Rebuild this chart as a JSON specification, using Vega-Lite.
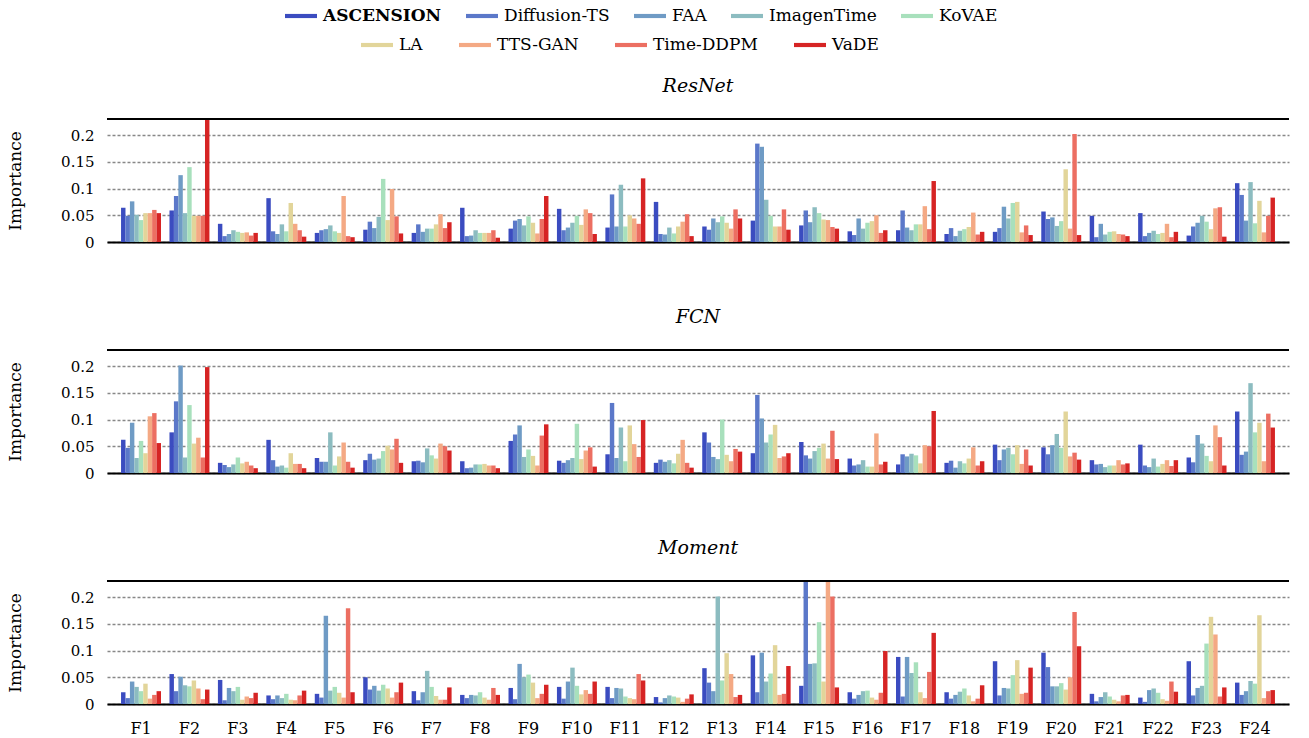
{
"$schema":"https://vega.github.io/schema/vega-lite/v6.json",
"padding":{"left":6,"top":0,"right":8,"bottom":0},
"config":{"font":"DejaVu Serif","view":{"stroke":null},"concat":{"spacing":58},
"axis":{"labelFont":"DejaVu Serif","titleFont":"DejaVu Serif","labelColor":"#000","titleColor":"#000"},
"axisY":{"titleFontSize":17,"titleFontWeight":"normal","titlePadding":36,"values":[0,0.05,0.1,0.15,0.2],"format":".2~f","labelFontSize":15,"labelPadding":13,"labelOverlap":false,"labelBound":false,"ticks":false,"domain":false,"gridColor":"#888888","gridDash":[3,2],"gridWidth":1.5},
"title":{"font":"DejaVu Serif","fontStyle":"italic","fontWeight":"normal","fontSize":19,"offset":22,"color":"#000"},
"legend":{"labelFont":"DejaVu Serif"}},
"datasets":{
"resnet":[
{"f":"F1","m":"ASCENSION","v":0.064},{"f":"F1","m":"Diffusion-TS","v":0.049},{"f":"F1","m":"FAA","v":0.076},{"f":"F1","m":"ImagenTime","v":0.051},{"f":"F1","m":"KoVAE","v":0.041},{"f":"F1","m":"LA","v":0.054},{"f":"F1","m":"TTS-GAN","v":0.054},{"f":"F1","m":"Time-DDPM","v":0.060},{"f":"F1","m":"VaDE","v":0.054},
{"f":"F2","m":"ASCENSION","v":0.059},{"f":"F2","m":"Diffusion-TS","v":0.086},{"f":"F2","m":"FAA","v":0.125},{"f":"F2","m":"ImagenTime","v":0.054},{"f":"F2","m":"KoVAE","v":0.140},{"f":"F2","m":"LA","v":0.049},{"f":"F2","m":"TTS-GAN","v":0.049},{"f":"F2","m":"Time-DDPM","v":0.049},{"f":"F2","m":"VaDE","v":0.25},
{"f":"F3","m":"ASCENSION","v":0.034},{"f":"F3","m":"Diffusion-TS","v":0.011},{"f":"F3","m":"FAA","v":0.015},{"f":"F3","m":"ImagenTime","v":0.022},{"f":"F3","m":"KoVAE","v":0.019},{"f":"F3","m":"LA","v":0.017},{"f":"F3","m":"TTS-GAN","v":0.018},{"f":"F3","m":"Time-DDPM","v":0.012},{"f":"F3","m":"VaDE","v":0.017},
{"f":"F4","m":"ASCENSION","v":0.082},{"f":"F4","m":"Diffusion-TS","v":0.020},{"f":"F4","m":"FAA","v":0.015},{"f":"F4","m":"ImagenTime","v":0.033},{"f":"F4","m":"KoVAE","v":0.020},{"f":"F4","m":"LA","v":0.073},{"f":"F4","m":"TTS-GAN","v":0.034},{"f":"F4","m":"Time-DDPM","v":0.022},{"f":"F4","m":"VaDE","v":0.010},
{"f":"F5","m":"ASCENSION","v":0.017},{"f":"F5","m":"Diffusion-TS","v":0.022},{"f":"F5","m":"FAA","v":0.024},{"f":"F5","m":"ImagenTime","v":0.031},{"f":"F5","m":"KoVAE","v":0.020},{"f":"F5","m":"LA","v":0.017},{"f":"F5","m":"TTS-GAN","v":0.086},{"f":"F5","m":"Time-DDPM","v":0.011},{"f":"F5","m":"VaDE","v":0.009},
{"f":"F6","m":"ASCENSION","v":0.023},{"f":"F6","m":"Diffusion-TS","v":0.038},{"f":"F6","m":"FAA","v":0.026},{"f":"F6","m":"ImagenTime","v":0.047},{"f":"F6","m":"KoVAE","v":0.118},{"f":"F6","m":"LA","v":0.041},{"f":"F6","m":"TTS-GAN","v":0.099},{"f":"F6","m":"Time-DDPM","v":0.048},{"f":"F6","m":"VaDE","v":0.016},
{"f":"F7","m":"ASCENSION","v":0.017},{"f":"F7","m":"Diffusion-TS","v":0.033},{"f":"F7","m":"FAA","v":0.019},{"f":"F7","m":"ImagenTime","v":0.025},{"f":"F7","m":"KoVAE","v":0.025},{"f":"F7","m":"LA","v":0.033},{"f":"F7","m":"TTS-GAN","v":0.052},{"f":"F7","m":"Time-DDPM","v":0.026},{"f":"F7","m":"VaDE","v":0.037},
{"f":"F8","m":"ASCENSION","v":0.064},{"f":"F8","m":"Diffusion-TS","v":0.011},{"f":"F8","m":"FAA","v":0.012},{"f":"F8","m":"ImagenTime","v":0.022},{"f":"F8","m":"KoVAE","v":0.017},{"f":"F8","m":"LA","v":0.017},{"f":"F8","m":"TTS-GAN","v":0.017},{"f":"F8","m":"Time-DDPM","v":0.022},{"f":"F8","m":"VaDE","v":0.008},
{"f":"F9","m":"ASCENSION","v":0.025},{"f":"F9","m":"Diffusion-TS","v":0.040},{"f":"F9","m":"FAA","v":0.043},{"f":"F9","m":"ImagenTime","v":0.031},{"f":"F9","m":"KoVAE","v":0.048},{"f":"F9","m":"LA","v":0.036},{"f":"F9","m":"TTS-GAN","v":0.016},{"f":"F9","m":"Time-DDPM","v":0.043},{"f":"F9","m":"VaDE","v":0.086},
{"f":"F10","m":"ASCENSION","v":0.062},{"f":"F10","m":"Diffusion-TS","v":0.022},{"f":"F10","m":"FAA","v":0.027},{"f":"F10","m":"ImagenTime","v":0.036},{"f":"F10","m":"KoVAE","v":0.049},{"f":"F10","m":"LA","v":0.032},{"f":"F10","m":"TTS-GAN","v":0.061},{"f":"F10","m":"Time-DDPM","v":0.054},{"f":"F10","m":"VaDE","v":0.015},
{"f":"F11","m":"ASCENSION","v":0.027},{"f":"F11","m":"Diffusion-TS","v":0.089},{"f":"F11","m":"FAA","v":0.029},{"f":"F11","m":"ImagenTime","v":0.107},{"f":"F11","m":"KoVAE","v":0.029},{"f":"F11","m":"LA","v":0.050},{"f":"F11","m":"TTS-GAN","v":0.044},{"f":"F11","m":"Time-DDPM","v":0.034},{"f":"F11","m":"VaDE","v":0.119},
{"f":"F12","m":"ASCENSION","v":0.075},{"f":"F12","m":"Diffusion-TS","v":0.015},{"f":"F12","m":"FAA","v":0.014},{"f":"F12","m":"ImagenTime","v":0.027},{"f":"F12","m":"KoVAE","v":0.016},{"f":"F12","m":"LA","v":0.029},{"f":"F12","m":"TTS-GAN","v":0.038},{"f":"F12","m":"Time-DDPM","v":0.052},{"f":"F12","m":"VaDE","v":0.011},
{"f":"F13","m":"ASCENSION","v":0.029},{"f":"F13","m":"Diffusion-TS","v":0.023},{"f":"F13","m":"FAA","v":0.044},{"f":"F13","m":"ImagenTime","v":0.037},{"f":"F13","m":"KoVAE","v":0.048},{"f":"F13","m":"LA","v":0.036},{"f":"F13","m":"TTS-GAN","v":0.025},{"f":"F13","m":"Time-DDPM","v":0.061},{"f":"F13","m":"VaDE","v":0.044},
{"f":"F14","m":"ASCENSION","v":0.040},{"f":"F14","m":"Diffusion-TS","v":0.184},{"f":"F14","m":"FAA","v":0.178},{"f":"F14","m":"ImagenTime","v":0.079},{"f":"F14","m":"KoVAE","v":0.049},{"f":"F14","m":"LA","v":0.029},{"f":"F14","m":"TTS-GAN","v":0.029},{"f":"F14","m":"Time-DDPM","v":0.061},{"f":"F14","m":"VaDE","v":0.023},
{"f":"F15","m":"ASCENSION","v":0.031},{"f":"F15","m":"Diffusion-TS","v":0.059},{"f":"F15","m":"FAA","v":0.037},{"f":"F15","m":"ImagenTime","v":0.065},{"f":"F15","m":"KoVAE","v":0.054},{"f":"F15","m":"LA","v":0.042},{"f":"F15","m":"TTS-GAN","v":0.041},{"f":"F15","m":"Time-DDPM","v":0.028},{"f":"F15","m":"VaDE","v":0.025},
{"f":"F16","m":"ASCENSION","v":0.020},{"f":"F16","m":"Diffusion-TS","v":0.013},{"f":"F16","m":"FAA","v":0.044},{"f":"F16","m":"ImagenTime","v":0.025},{"f":"F16","m":"KoVAE","v":0.036},{"f":"F16","m":"LA","v":0.039},{"f":"F16","m":"TTS-GAN","v":0.050},{"f":"F16","m":"Time-DDPM","v":0.017},{"f":"F16","m":"VaDE","v":0.022},
{"f":"F17","m":"ASCENSION","v":0.022},{"f":"F17","m":"Diffusion-TS","v":0.059},{"f":"F17","m":"FAA","v":0.027},{"f":"F17","m":"ImagenTime","v":0.022},{"f":"F17","m":"KoVAE","v":0.033},{"f":"F17","m":"LA","v":0.033},{"f":"F17","m":"TTS-GAN","v":0.067},{"f":"F17","m":"Time-DDPM","v":0.024},{"f":"F17","m":"VaDE","v":0.114},
{"f":"F18","m":"ASCENSION","v":0.015},{"f":"F18","m":"Diffusion-TS","v":0.026},{"f":"F18","m":"FAA","v":0.011},{"f":"F18","m":"ImagenTime","v":0.021},{"f":"F18","m":"KoVAE","v":0.024},{"f":"F18","m":"LA","v":0.028},{"f":"F18","m":"TTS-GAN","v":0.055},{"f":"F18","m":"Time-DDPM","v":0.014},{"f":"F18","m":"VaDE","v":0.019},
{"f":"F19","m":"ASCENSION","v":0.019},{"f":"F19","m":"Diffusion-TS","v":0.026},{"f":"F19","m":"FAA","v":0.066},{"f":"F19","m":"ImagenTime","v":0.044},{"f":"F19","m":"KoVAE","v":0.073},{"f":"F19","m":"LA","v":0.075},{"f":"F19","m":"TTS-GAN","v":0.018},{"f":"F19","m":"Time-DDPM","v":0.031},{"f":"F19","m":"VaDE","v":0.013},
{"f":"F20","m":"ASCENSION","v":0.057},{"f":"F20","m":"Diffusion-TS","v":0.043},{"f":"F20","m":"FAA","v":0.046},{"f":"F20","m":"ImagenTime","v":0.030},{"f":"F20","m":"KoVAE","v":0.039},{"f":"F20","m":"LA","v":0.136},{"f":"F20","m":"TTS-GAN","v":0.025},{"f":"F20","m":"Time-DDPM","v":0.202},{"f":"F20","m":"VaDE","v":0.013},
{"f":"F21","m":"ASCENSION","v":0.049},{"f":"F21","m":"Diffusion-TS","v":0.009},{"f":"F21","m":"FAA","v":0.034},{"f":"F21","m":"ImagenTime","v":0.014},{"f":"F21","m":"KoVAE","v":0.019},{"f":"F21","m":"LA","v":0.020},{"f":"F21","m":"TTS-GAN","v":0.015},{"f":"F21","m":"Time-DDPM","v":0.014},{"f":"F21","m":"VaDE","v":0.011},
{"f":"F22","m":"ASCENSION","v":0.054},{"f":"F22","m":"Diffusion-TS","v":0.011},{"f":"F22","m":"FAA","v":0.017},{"f":"F22","m":"ImagenTime","v":0.021},{"f":"F22","m":"KoVAE","v":0.015},{"f":"F22","m":"LA","v":0.017},{"f":"F22","m":"TTS-GAN","v":0.034},{"f":"F22","m":"Time-DDPM","v":0.009},{"f":"F22","m":"VaDE","v":0.019},
{"f":"F23","m":"ASCENSION","v":0.012},{"f":"F23","m":"Diffusion-TS","v":0.029},{"f":"F23","m":"FAA","v":0.036},{"f":"F23","m":"ImagenTime","v":0.049},{"f":"F23","m":"KoVAE","v":0.038},{"f":"F23","m":"LA","v":0.024},{"f":"F23","m":"TTS-GAN","v":0.063},{"f":"F23","m":"Time-DDPM","v":0.065},{"f":"F23","m":"VaDE","v":0.010},
{"f":"F24","m":"ASCENSION","v":0.110},{"f":"F24","m":"Diffusion-TS","v":0.088},{"f":"F24","m":"FAA","v":0.040},{"f":"F24","m":"ImagenTime","v":0.112},{"f":"F24","m":"KoVAE","v":0.035},{"f":"F24","m":"LA","v":0.077},{"f":"F24","m":"TTS-GAN","v":0.018},{"f":"F24","m":"Time-DDPM","v":0.049},{"f":"F24","m":"VaDE","v":0.083}
],
"fcn":[
{"f":"F1","m":"ASCENSION","v":0.062},{"f":"F1","m":"Diffusion-TS","v":0.047},{"f":"F1","m":"FAA","v":0.094},{"f":"F1","m":"ImagenTime","v":0.028},{"f":"F1","m":"KoVAE","v":0.060},{"f":"F1","m":"LA","v":0.037},{"f":"F1","m":"TTS-GAN","v":0.106},{"f":"F1","m":"Time-DDPM","v":0.112},{"f":"F1","m":"VaDE","v":0.056},
{"f":"F2","m":"ASCENSION","v":0.076},{"f":"F2","m":"Diffusion-TS","v":0.134},{"f":"F2","m":"FAA","v":0.201},{"f":"F2","m":"ImagenTime","v":0.029},{"f":"F2","m":"KoVAE","v":0.127},{"f":"F2","m":"LA","v":0.055},{"f":"F2","m":"TTS-GAN","v":0.066},{"f":"F2","m":"Time-DDPM","v":0.029},{"f":"F2","m":"VaDE","v":0.198},
{"f":"F3","m":"ASCENSION","v":0.019},{"f":"F3","m":"Diffusion-TS","v":0.015},{"f":"F3","m":"FAA","v":0.011},{"f":"F3","m":"ImagenTime","v":0.016},{"f":"F3","m":"KoVAE","v":0.029},{"f":"F3","m":"LA","v":0.018},{"f":"F3","m":"TTS-GAN","v":0.021},{"f":"F3","m":"Time-DDPM","v":0.014},{"f":"F3","m":"VaDE","v":0.009},
{"f":"F4","m":"ASCENSION","v":0.062},{"f":"F4","m":"Diffusion-TS","v":0.024},{"f":"F4","m":"FAA","v":0.012},{"f":"F4","m":"ImagenTime","v":0.014},{"f":"F4","m":"KoVAE","v":0.010},{"f":"F4","m":"LA","v":0.037},{"f":"F4","m":"TTS-GAN","v":0.017},{"f":"F4","m":"Time-DDPM","v":0.017},{"f":"F4","m":"VaDE","v":0.009},
{"f":"F5","m":"ASCENSION","v":0.028},{"f":"F5","m":"Diffusion-TS","v":0.021},{"f":"F5","m":"FAA","v":0.021},{"f":"F5","m":"ImagenTime","v":0.076},{"f":"F5","m":"KoVAE","v":0.014},{"f":"F5","m":"LA","v":0.031},{"f":"F5","m":"TTS-GAN","v":0.057},{"f":"F5","m":"Time-DDPM","v":0.021},{"f":"F5","m":"VaDE","v":0.010},
{"f":"F6","m":"ASCENSION","v":0.024},{"f":"F6","m":"Diffusion-TS","v":0.036},{"f":"F6","m":"FAA","v":0.025},{"f":"F6","m":"ImagenTime","v":0.027},{"f":"F6","m":"KoVAE","v":0.041},{"f":"F6","m":"LA","v":0.051},{"f":"F6","m":"TTS-GAN","v":0.044},{"f":"F6","m":"Time-DDPM","v":0.064},{"f":"F6","m":"VaDE","v":0.019},
{"f":"F7","m":"ASCENSION","v":0.022},{"f":"F7","m":"Diffusion-TS","v":0.023},{"f":"F7","m":"FAA","v":0.020},{"f":"F7","m":"ImagenTime","v":0.046},{"f":"F7","m":"KoVAE","v":0.033},{"f":"F7","m":"LA","v":0.027},{"f":"F7","m":"TTS-GAN","v":0.055},{"f":"F7","m":"Time-DDPM","v":0.050},{"f":"F7","m":"VaDE","v":0.042},
{"f":"F8","m":"ASCENSION","v":0.022},{"f":"F8","m":"Diffusion-TS","v":0.009},{"f":"F8","m":"FAA","v":0.010},{"f":"F8","m":"ImagenTime","v":0.016},{"f":"F8","m":"KoVAE","v":0.016},{"f":"F8","m":"LA","v":0.017},{"f":"F8","m":"TTS-GAN","v":0.014},{"f":"F8","m":"Time-DDPM","v":0.014},{"f":"F8","m":"VaDE","v":0.009},
{"f":"F9","m":"ASCENSION","v":0.060},{"f":"F9","m":"Diffusion-TS","v":0.072},{"f":"F9","m":"FAA","v":0.089},{"f":"F9","m":"ImagenTime","v":0.030},{"f":"F9","m":"KoVAE","v":0.044},{"f":"F9","m":"LA","v":0.032},{"f":"F9","m":"TTS-GAN","v":0.014},{"f":"F9","m":"Time-DDPM","v":0.070},{"f":"F9","m":"VaDE","v":0.091},
{"f":"F10","m":"ASCENSION","v":0.023},{"f":"F10","m":"Diffusion-TS","v":0.019},{"f":"F10","m":"FAA","v":0.024},{"f":"F10","m":"ImagenTime","v":0.028},{"f":"F10","m":"KoVAE","v":0.092},{"f":"F10","m":"LA","v":0.026},{"f":"F10","m":"TTS-GAN","v":0.042},{"f":"F10","m":"Time-DDPM","v":0.048},{"f":"F10","m":"VaDE","v":0.012},
{"f":"F11","m":"ASCENSION","v":0.035},{"f":"F11","m":"Diffusion-TS","v":0.131},{"f":"F11","m":"FAA","v":0.028},{"f":"F11","m":"ImagenTime","v":0.085},{"f":"F11","m":"KoVAE","v":0.022},{"f":"F11","m":"LA","v":0.089},{"f":"F11","m":"TTS-GAN","v":0.054},{"f":"F11","m":"Time-DDPM","v":0.030},{"f":"F11","m":"VaDE","v":0.099},
{"f":"F12","m":"ASCENSION","v":0.019},{"f":"F12","m":"Diffusion-TS","v":0.025},{"f":"F12","m":"FAA","v":0.021},{"f":"F12","m":"ImagenTime","v":0.024},{"f":"F12","m":"KoVAE","v":0.018},{"f":"F12","m":"LA","v":0.036},{"f":"F12","m":"TTS-GAN","v":0.062},{"f":"F12","m":"Time-DDPM","v":0.019},{"f":"F12","m":"VaDE","v":0.010},
{"f":"F13","m":"ASCENSION","v":0.076},{"f":"F13","m":"Diffusion-TS","v":0.057},{"f":"F13","m":"FAA","v":0.030},{"f":"F13","m":"ImagenTime","v":0.026},{"f":"F13","m":"KoVAE","v":0.100},{"f":"F13","m":"LA","v":0.034},{"f":"F13","m":"TTS-GAN","v":0.022},{"f":"F13","m":"Time-DDPM","v":0.045},{"f":"F13","m":"VaDE","v":0.040},
{"f":"F14","m":"ASCENSION","v":0.037},{"f":"F14","m":"Diffusion-TS","v":0.146},{"f":"F14","m":"FAA","v":0.102},{"f":"F14","m":"ImagenTime","v":0.057},{"f":"F14","m":"KoVAE","v":0.072},{"f":"F14","m":"LA","v":0.090},{"f":"F14","m":"TTS-GAN","v":0.028},{"f":"F14","m":"Time-DDPM","v":0.031},{"f":"F14","m":"VaDE","v":0.037},
{"f":"F15","m":"ASCENSION","v":0.058},{"f":"F15","m":"Diffusion-TS","v":0.033},{"f":"F15","m":"FAA","v":0.027},{"f":"F15","m":"ImagenTime","v":0.041},{"f":"F15","m":"KoVAE","v":0.047},{"f":"F15","m":"LA","v":0.055},{"f":"F15","m":"TTS-GAN","v":0.027},{"f":"F15","m":"Time-DDPM","v":0.079},{"f":"F15","m":"VaDE","v":0.026},
{"f":"F16","m":"ASCENSION","v":0.027},{"f":"F16","m":"Diffusion-TS","v":0.014},{"f":"F16","m":"FAA","v":0.016},{"f":"F16","m":"ImagenTime","v":0.024},{"f":"F16","m":"KoVAE","v":0.012},{"f":"F16","m":"LA","v":0.012},{"f":"F16","m":"TTS-GAN","v":0.074},{"f":"F16","m":"Time-DDPM","v":0.016},{"f":"F16","m":"VaDE","v":0.021},
{"f":"F17","m":"ASCENSION","v":0.016},{"f":"F17","m":"Diffusion-TS","v":0.035},{"f":"F17","m":"FAA","v":0.031},{"f":"F17","m":"ImagenTime","v":0.036},{"f":"F17","m":"KoVAE","v":0.033},{"f":"F17","m":"LA","v":0.018},{"f":"F17","m":"TTS-GAN","v":0.052},{"f":"F17","m":"Time-DDPM","v":0.050},{"f":"F17","m":"VaDE","v":0.116},
{"f":"F18","m":"ASCENSION","v":0.019},{"f":"F18","m":"Diffusion-TS","v":0.023},{"f":"F18","m":"FAA","v":0.010},{"f":"F18","m":"ImagenTime","v":0.022},{"f":"F18","m":"KoVAE","v":0.018},{"f":"F18","m":"LA","v":0.027},{"f":"F18","m":"TTS-GAN","v":0.048},{"f":"F18","m":"Time-DDPM","v":0.014},{"f":"F18","m":"VaDE","v":0.022},
{"f":"F19","m":"ASCENSION","v":0.053},{"f":"F19","m":"Diffusion-TS","v":0.024},{"f":"F19","m":"FAA","v":0.044},{"f":"F19","m":"ImagenTime","v":0.047},{"f":"F19","m":"KoVAE","v":0.035},{"f":"F19","m":"LA","v":0.052},{"f":"F19","m":"TTS-GAN","v":0.017},{"f":"F19","m":"Time-DDPM","v":0.044},{"f":"F19","m":"VaDE","v":0.014},
{"f":"F20","m":"ASCENSION","v":0.048},{"f":"F20","m":"Diffusion-TS","v":0.035},{"f":"F20","m":"FAA","v":0.052},{"f":"F20","m":"ImagenTime","v":0.073},{"f":"F20","m":"KoVAE","v":0.047},{"f":"F20","m":"LA","v":0.115},{"f":"F20","m":"TTS-GAN","v":0.031},{"f":"F20","m":"Time-DDPM","v":0.038},{"f":"F20","m":"VaDE","v":0.025},
{"f":"F21","m":"ASCENSION","v":0.024},{"f":"F21","m":"Diffusion-TS","v":0.016},{"f":"F21","m":"FAA","v":0.017},{"f":"F21","m":"ImagenTime","v":0.011},{"f":"F21","m":"KoVAE","v":0.014},{"f":"F21","m":"LA","v":0.014},{"f":"F21","m":"TTS-GAN","v":0.024},{"f":"F21","m":"Time-DDPM","v":0.016},{"f":"F21","m":"VaDE","v":0.018},
{"f":"F22","m":"ASCENSION","v":0.053},{"f":"F22","m":"Diffusion-TS","v":0.014},{"f":"F22","m":"FAA","v":0.011},{"f":"F22","m":"ImagenTime","v":0.027},{"f":"F22","m":"KoVAE","v":0.012},{"f":"F22","m":"LA","v":0.017},{"f":"F22","m":"TTS-GAN","v":0.024},{"f":"F22","m":"Time-DDPM","v":0.013},{"f":"F22","m":"VaDE","v":0.024},
{"f":"F23","m":"ASCENSION","v":0.029},{"f":"F23","m":"Diffusion-TS","v":0.020},{"f":"F23","m":"FAA","v":0.071},{"f":"F23","m":"ImagenTime","v":0.055},{"f":"F23","m":"KoVAE","v":0.032},{"f":"F23","m":"LA","v":0.022},{"f":"F23","m":"TTS-GAN","v":0.089},{"f":"F23","m":"Time-DDPM","v":0.067},{"f":"F23","m":"VaDE","v":0.014},
{"f":"F24","m":"ASCENSION","v":0.115},{"f":"F24","m":"Diffusion-TS","v":0.034},{"f":"F24","m":"FAA","v":0.040},{"f":"F24","m":"ImagenTime","v":0.168},{"f":"F24","m":"KoVAE","v":0.076},{"f":"F24","m":"LA","v":0.094},{"f":"F24","m":"TTS-GAN","v":0.022},{"f":"F24","m":"Time-DDPM","v":0.111},{"f":"F24","m":"VaDE","v":0.085}
],
"moment":[
{"f":"F1","m":"ASCENSION","v":0.022},{"f":"F1","m":"Diffusion-TS","v":0.011},{"f":"F1","m":"FAA","v":0.042},{"f":"F1","m":"ImagenTime","v":0.032},{"f":"F1","m":"KoVAE","v":0.024},{"f":"F1","m":"LA","v":0.038},{"f":"F1","m":"TTS-GAN","v":0.010},{"f":"F1","m":"Time-DDPM","v":0.017},{"f":"F1","m":"VaDE","v":0.024},
{"f":"F2","m":"ASCENSION","v":0.056},{"f":"F2","m":"Diffusion-TS","v":0.024},{"f":"F2","m":"FAA","v":0.051},{"f":"F2","m":"ImagenTime","v":0.035},{"f":"F2","m":"KoVAE","v":0.033},{"f":"F2","m":"LA","v":0.044},{"f":"F2","m":"TTS-GAN","v":0.029},{"f":"F2","m":"Time-DDPM","v":0.009},{"f":"F2","m":"VaDE","v":0.027},
{"f":"F3","m":"ASCENSION","v":0.045},{"f":"F3","m":"Diffusion-TS","v":0.007},{"f":"F3","m":"FAA","v":0.030},{"f":"F3","m":"ImagenTime","v":0.024},{"f":"F3","m":"KoVAE","v":0.032},{"f":"F3","m":"LA","v":0.008},{"f":"F3","m":"TTS-GAN","v":0.014},{"f":"F3","m":"Time-DDPM","v":0.011},{"f":"F3","m":"VaDE","v":0.021},
{"f":"F4","m":"ASCENSION","v":0.016},{"f":"F4","m":"Diffusion-TS","v":0.009},{"f":"F4","m":"FAA","v":0.016},{"f":"F4","m":"ImagenTime","v":0.011},{"f":"F4","m":"KoVAE","v":0.019},{"f":"F4","m":"LA","v":0.008},{"f":"F4","m":"TTS-GAN","v":0.007},{"f":"F4","m":"Time-DDPM","v":0.016},{"f":"F4","m":"VaDE","v":0.025},
{"f":"F5","m":"ASCENSION","v":0.019},{"f":"F5","m":"Diffusion-TS","v":0.012},{"f":"F5","m":"FAA","v":0.165},{"f":"F5","m":"ImagenTime","v":0.025},{"f":"F5","m":"KoVAE","v":0.032},{"f":"F5","m":"LA","v":0.021},{"f":"F5","m":"TTS-GAN","v":0.012},{"f":"F5","m":"Time-DDPM","v":0.179},{"f":"F5","m":"VaDE","v":0.022},
{"f":"F6","m":"ASCENSION","v":0.050},{"f":"F6","m":"Diffusion-TS","v":0.027},{"f":"F6","m":"FAA","v":0.034},{"f":"F6","m":"ImagenTime","v":0.025},{"f":"F6","m":"KoVAE","v":0.036},{"f":"F6","m":"LA","v":0.029},{"f":"F6","m":"TTS-GAN","v":0.012},{"f":"F6","m":"Time-DDPM","v":0.022},{"f":"F6","m":"VaDE","v":0.040},
{"f":"F7","m":"ASCENSION","v":0.024},{"f":"F7","m":"Diffusion-TS","v":0.007},{"f":"F7","m":"FAA","v":0.022},{"f":"F7","m":"ImagenTime","v":0.062},{"f":"F7","m":"KoVAE","v":0.032},{"f":"F7","m":"LA","v":0.015},{"f":"F7","m":"TTS-GAN","v":0.008},{"f":"F7","m":"Time-DDPM","v":0.008},{"f":"F7","m":"VaDE","v":0.031},
{"f":"F8","m":"ASCENSION","v":0.017},{"f":"F8","m":"Diffusion-TS","v":0.011},{"f":"F8","m":"FAA","v":0.017},{"f":"F8","m":"ImagenTime","v":0.016},{"f":"F8","m":"KoVAE","v":0.022},{"f":"F8","m":"LA","v":0.012},{"f":"F8","m":"TTS-GAN","v":0.008},{"f":"F8","m":"Time-DDPM","v":0.030},{"f":"F8","m":"VaDE","v":0.017},
{"f":"F9","m":"ASCENSION","v":0.030},{"f":"F9","m":"Diffusion-TS","v":0.009},{"f":"F9","m":"FAA","v":0.075},{"f":"F9","m":"ImagenTime","v":0.050},{"f":"F9","m":"KoVAE","v":0.055},{"f":"F9","m":"LA","v":0.040},{"f":"F9","m":"TTS-GAN","v":0.011},{"f":"F9","m":"Time-DDPM","v":0.019},{"f":"F9","m":"VaDE","v":0.036},
{"f":"F10","m":"ASCENSION","v":0.032},{"f":"F10","m":"Diffusion-TS","v":0.010},{"f":"F10","m":"FAA","v":0.042},{"f":"F10","m":"ImagenTime","v":0.068},{"f":"F10","m":"KoVAE","v":0.034},{"f":"F10","m":"LA","v":0.018},{"f":"F10","m":"TTS-GAN","v":0.026},{"f":"F10","m":"Time-DDPM","v":0.019},{"f":"F10","m":"VaDE","v":0.042},
{"f":"F11","m":"ASCENSION","v":0.032},{"f":"F11","m":"Diffusion-TS","v":0.011},{"f":"F11","m":"FAA","v":0.030},{"f":"F11","m":"ImagenTime","v":0.029},{"f":"F11","m":"KoVAE","v":0.014},{"f":"F11","m":"LA","v":0.011},{"f":"F11","m":"TTS-GAN","v":0.009},{"f":"F11","m":"Time-DDPM","v":0.056},{"f":"F11","m":"VaDE","v":0.044},
{"f":"F12","m":"ASCENSION","v":0.013},{"f":"F12","m":"Diffusion-TS","v":0.003},{"f":"F12","m":"FAA","v":0.011},{"f":"F12","m":"ImagenTime","v":0.016},{"f":"F12","m":"KoVAE","v":0.014},{"f":"F12","m":"LA","v":0.012},{"f":"F12","m":"TTS-GAN","v":0.004},{"f":"F12","m":"Time-DDPM","v":0.010},{"f":"F12","m":"VaDE","v":0.018},
{"f":"F13","m":"ASCENSION","v":0.067},{"f":"F13","m":"Diffusion-TS","v":0.040},{"f":"F13","m":"FAA","v":0.024},{"f":"F13","m":"ImagenTime","v":0.201},{"f":"F13","m":"KoVAE","v":0.044},{"f":"F13","m":"LA","v":0.095},{"f":"F13","m":"TTS-GAN","v":0.056},{"f":"F13","m":"Time-DDPM","v":0.013},{"f":"F13","m":"VaDE","v":0.017},
{"f":"F14","m":"ASCENSION","v":0.091},{"f":"F14","m":"Diffusion-TS","v":0.022},{"f":"F14","m":"FAA","v":0.096},{"f":"F14","m":"ImagenTime","v":0.042},{"f":"F14","m":"KoVAE","v":0.057},{"f":"F14","m":"LA","v":0.110},{"f":"F14","m":"TTS-GAN","v":0.017},{"f":"F14","m":"Time-DDPM","v":0.019},{"f":"F14","m":"VaDE","v":0.071},
{"f":"F15","m":"ASCENSION","v":0.034},{"f":"F15","m":"Diffusion-TS","v":0.25},{"f":"F15","m":"FAA","v":0.075},{"f":"F15","m":"ImagenTime","v":0.076},{"f":"F15","m":"KoVAE","v":0.153},{"f":"F15","m":"LA","v":0.042},{"f":"F15","m":"TTS-GAN","v":0.25},{"f":"F15","m":"Time-DDPM","v":0.201},{"f":"F15","m":"VaDE","v":0.031},
{"f":"F16","m":"ASCENSION","v":0.022},{"f":"F16","m":"Diffusion-TS","v":0.010},{"f":"F16","m":"FAA","v":0.017},{"f":"F16","m":"ImagenTime","v":0.024},{"f":"F16","m":"KoVAE","v":0.025},{"f":"F16","m":"LA","v":0.012},{"f":"F16","m":"TTS-GAN","v":0.008},{"f":"F16","m":"Time-DDPM","v":0.021},{"f":"F16","m":"VaDE","v":0.099},
{"f":"F17","m":"ASCENSION","v":0.088},{"f":"F17","m":"Diffusion-TS","v":0.014},{"f":"F17","m":"FAA","v":0.088},{"f":"F17","m":"ImagenTime","v":0.058},{"f":"F17","m":"KoVAE","v":0.078},{"f":"F17","m":"LA","v":0.022},{"f":"F17","m":"TTS-GAN","v":0.011},{"f":"F17","m":"Time-DDPM","v":0.060},{"f":"F17","m":"VaDE","v":0.133},
{"f":"F18","m":"ASCENSION","v":0.022},{"f":"F18","m":"Diffusion-TS","v":0.010},{"f":"F18","m":"FAA","v":0.017},{"f":"F18","m":"ImagenTime","v":0.023},{"f":"F18","m":"KoVAE","v":0.029},{"f":"F18","m":"LA","v":0.016},{"f":"F18","m":"TTS-GAN","v":0.005},{"f":"F18","m":"Time-DDPM","v":0.010},{"f":"F18","m":"VaDE","v":0.035},
{"f":"F19","m":"ASCENSION","v":0.080},{"f":"F19","m":"Diffusion-TS","v":0.016},{"f":"F19","m":"FAA","v":0.030},{"f":"F19","m":"ImagenTime","v":0.029},{"f":"F19","m":"KoVAE","v":0.054},{"f":"F19","m":"LA","v":0.082},{"f":"F19","m":"TTS-GAN","v":0.019},{"f":"F19","m":"Time-DDPM","v":0.021},{"f":"F19","m":"VaDE","v":0.068},
{"f":"F20","m":"ASCENSION","v":0.096},{"f":"F20","m":"Diffusion-TS","v":0.069},{"f":"F20","m":"FAA","v":0.033},{"f":"F20","m":"ImagenTime","v":0.033},{"f":"F20","m":"KoVAE","v":0.039},{"f":"F20","m":"LA","v":0.027},{"f":"F20","m":"TTS-GAN","v":0.050},{"f":"F20","m":"Time-DDPM","v":0.172},{"f":"F20","m":"VaDE","v":0.108},
{"f":"F21","m":"ASCENSION","v":0.019},{"f":"F21","m":"Diffusion-TS","v":0.005},{"f":"F21","m":"FAA","v":0.013},{"f":"F21","m":"ImagenTime","v":0.022},{"f":"F21","m":"KoVAE","v":0.014},{"f":"F21","m":"LA","v":0.008},{"f":"F21","m":"TTS-GAN","v":0.005},{"f":"F21","m":"Time-DDPM","v":0.016},{"f":"F21","m":"VaDE","v":0.017},
{"f":"F22","m":"ASCENSION","v":0.012},{"f":"F22","m":"Diffusion-TS","v":0.004},{"f":"F22","m":"FAA","v":0.026},{"f":"F22","m":"ImagenTime","v":0.029},{"f":"F22","m":"KoVAE","v":0.021},{"f":"F22","m":"LA","v":0.009},{"f":"F22","m":"TTS-GAN","v":0.006},{"f":"F22","m":"Time-DDPM","v":0.042},{"f":"F22","m":"VaDE","v":0.023},
{"f":"F23","m":"ASCENSION","v":0.080},{"f":"F23","m":"Diffusion-TS","v":0.016},{"f":"F23","m":"FAA","v":0.030},{"f":"F23","m":"ImagenTime","v":0.034},{"f":"F23","m":"KoVAE","v":0.113},{"f":"F23","m":"LA","v":0.163},{"f":"F23","m":"TTS-GAN","v":0.130},{"f":"F23","m":"Time-DDPM","v":0.014},{"f":"F23","m":"VaDE","v":0.031},
{"f":"F24","m":"ASCENSION","v":0.040},{"f":"F24","m":"Diffusion-TS","v":0.017},{"f":"F24","m":"FAA","v":0.024},{"f":"F24","m":"ImagenTime","v":0.043},{"f":"F24","m":"KoVAE","v":0.038},{"f":"F24","m":"LA","v":0.166},{"f":"F24","m":"TTS-GAN","v":0.011},{"f":"F24","m":"Time-DDPM","v":0.024},{"f":"F24","m":"VaDE","v":0.026}
]},
"vconcat":[
{"title":{"text":"ResNet"},"width":1182,"height":123,
"layer":[
{"data":{"name":"resnet"},"transform":[{"filter":{"field":"m","oneOf":["ASCENSION","Diffusion-TS","FAA","ImagenTime","KoVAE"]}}],"mark":{"type":"bar","clip":true},
"encoding":{
"x":{"field":"f","type":"nominal","sort":["F1","F2","F3","F4","F5","F6","F7","F8","F9","F10","F11","F12","F13","F14","F15","F16","F17","F18","F19","F20","F21","F22","F23","F24"],"scale":{"paddingInner":0.175,"paddingOuter":0.29},"axis":{"title":null,"labels":false,"ticks":false,"domainColor":"#000","domainWidth":2}},
"xOffset":{"field":"m","type":"nominal","scale":{"domain":["ASCENSION","Diffusion-TS","FAA","ImagenTime","KoVAE","LA","TTS-GAN","Time-DDPM","VaDE"]}},
"y":{"field":"v","type":"quantitative","scale":{"domain":[0,0.23],"nice":false},"axis":{"title":"Importance"}},
"color":{"field":"m","type":"nominal","scale":{"domain":["ASCENSION","Diffusion-TS","FAA","ImagenTime","KoVAE"],"range":["#3b4cc0","#5b78c9","#6f9bc5","#8cbcc0","#a8e0bc"]},
"legend":{"title":null,"orient":"none","legendX":178,"legendY":-119,"direction":"horizontal","labelFontSize":17,"labelOffset":6,"columnPadding":24,"symbolType":"M-1,-0.13H1V0.13H-1Z","symbolSize":1024,"symbolStrokeWidth":0,"symbolOpacity":1,"padding":0,"labelFontWeight":{"expr":"datum.label == 'ASCENSION' ? 'bold' : 'normal'"}}}
}},
{"data":{"name":"resnet"},"transform":[{"filter":{"field":"m","oneOf":["LA","TTS-GAN","Time-DDPM","VaDE"]}}],"mark":{"type":"bar","clip":true},
"encoding":{
"x":{"field":"f","type":"nominal","sort":["F1","F2","F3","F4","F5","F6","F7","F8","F9","F10","F11","F12","F13","F14","F15","F16","F17","F18","F19","F20","F21","F22","F23","F24"]},
"xOffset":{"field":"m","type":"nominal","scale":{"domain":["ASCENSION","Diffusion-TS","FAA","ImagenTime","KoVAE","LA","TTS-GAN","Time-DDPM","VaDE"]}},
"y":{"field":"v","type":"quantitative","axis":{"title":"Importance"}},
"fill":{"field":"m","type":"nominal","scale":{"domain":["LA","TTS-GAN","Time-DDPM","VaDE"],"range":["#e2d59a","#f4a984","#ec6f62","#d62424"]},
"legend":{"title":null,"orient":"none","legendX":254,"legendY":-90,"direction":"horizontal","labelFontSize":17,"labelOffset":6,"columnPadding":36,"symbolType":"M-1,-0.13H1V0.13H-1Z","symbolSize":1024,"symbolStrokeWidth":0,"symbolOpacity":1,"padding":0}}
}},
{"data":{"values":[{}]},"mark":{"type":"rule","color":"#000","strokeWidth":2},"encoding":{"y":{"datum":0.23,"type":"quantitative","axis":{"title":"Importance"}}}}
]},
{"title":{"text":"FCN"},"width":1182,"height":123,
"layer":[
{"data":{"name":"fcn"},"transform":[{"filter":{"field":"m","oneOf":["ASCENSION","Diffusion-TS","FAA","ImagenTime","KoVAE"]}}],"mark":{"type":"bar","clip":true},
"encoding":{
"x":{"field":"f","type":"nominal","sort":["F1","F2","F3","F4","F5","F6","F7","F8","F9","F10","F11","F12","F13","F14","F15","F16","F17","F18","F19","F20","F21","F22","F23","F24"],"scale":{"paddingInner":0.175,"paddingOuter":0.29},"axis":{"title":null,"labels":false,"ticks":false,"domainColor":"#000","domainWidth":2}},
"xOffset":{"field":"m","type":"nominal","scale":{"domain":["ASCENSION","Diffusion-TS","FAA","ImagenTime","KoVAE","LA","TTS-GAN","Time-DDPM","VaDE"]}},
"y":{"field":"v","type":"quantitative","scale":{"domain":[0,0.23],"nice":false},"axis":{"title":"Importance"}},
"color":{"field":"m","type":"nominal"}
}},
{"data":{"name":"fcn"},"transform":[{"filter":{"field":"m","oneOf":["LA","TTS-GAN","Time-DDPM","VaDE"]}}],"mark":{"type":"bar","clip":true},
"encoding":{
"x":{"field":"f","type":"nominal","sort":["F1","F2","F3","F4","F5","F6","F7","F8","F9","F10","F11","F12","F13","F14","F15","F16","F17","F18","F19","F20","F21","F22","F23","F24"]},
"xOffset":{"field":"m","type":"nominal","scale":{"domain":["ASCENSION","Diffusion-TS","FAA","ImagenTime","KoVAE","LA","TTS-GAN","Time-DDPM","VaDE"]}},
"y":{"field":"v","type":"quantitative","axis":{"title":"Importance"}},
"fill":{"field":"m","type":"nominal"}
}},
{"data":{"values":[{}]},"mark":{"type":"rule","color":"#000","strokeWidth":2},"encoding":{"y":{"datum":0.23,"type":"quantitative","axis":{"title":"Importance"}}}}
]},
{"title":{"text":"Moment"},"width":1182,"height":123,
"layer":[
{"data":{"name":"moment"},"transform":[{"filter":{"field":"m","oneOf":["ASCENSION","Diffusion-TS","FAA","ImagenTime","KoVAE"]}}],"mark":{"type":"bar","clip":true},
"encoding":{
"x":{"field":"f","type":"nominal","sort":["F1","F2","F3","F4","F5","F6","F7","F8","F9","F10","F11","F12","F13","F14","F15","F16","F17","F18","F19","F20","F21","F22","F23","F24"],"scale":{"paddingInner":0.175,"paddingOuter":0.29},"axis":{"title":null,"labelAngle":0,"labelFontSize":16,"labelPadding":16,"ticks":false,"domainColor":"#000","domainWidth":2}},
"xOffset":{"field":"m","type":"nominal","scale":{"domain":["ASCENSION","Diffusion-TS","FAA","ImagenTime","KoVAE","LA","TTS-GAN","Time-DDPM","VaDE"]}},
"y":{"field":"v","type":"quantitative","scale":{"domain":[0,0.23],"nice":false},"axis":{"title":"Importance"}},
"color":{"field":"m","type":"nominal"}
}},
{"data":{"name":"moment"},"transform":[{"filter":{"field":"m","oneOf":["LA","TTS-GAN","Time-DDPM","VaDE"]}}],"mark":{"type":"bar","clip":true},
"encoding":{
"x":{"field":"f","type":"nominal","sort":["F1","F2","F3","F4","F5","F6","F7","F8","F9","F10","F11","F12","F13","F14","F15","F16","F17","F18","F19","F20","F21","F22","F23","F24"]},
"xOffset":{"field":"m","type":"nominal","scale":{"domain":["ASCENSION","Diffusion-TS","FAA","ImagenTime","KoVAE","LA","TTS-GAN","Time-DDPM","VaDE"]}},
"y":{"field":"v","type":"quantitative","axis":{"title":"Importance"}},
"fill":{"field":"m","type":"nominal"}
}},
{"data":{"values":[{}]},"mark":{"type":"rule","color":"#000","strokeWidth":2},"encoding":{"y":{"datum":0.23,"type":"quantitative","axis":{"title":"Importance"}}}}
]}
]
}
